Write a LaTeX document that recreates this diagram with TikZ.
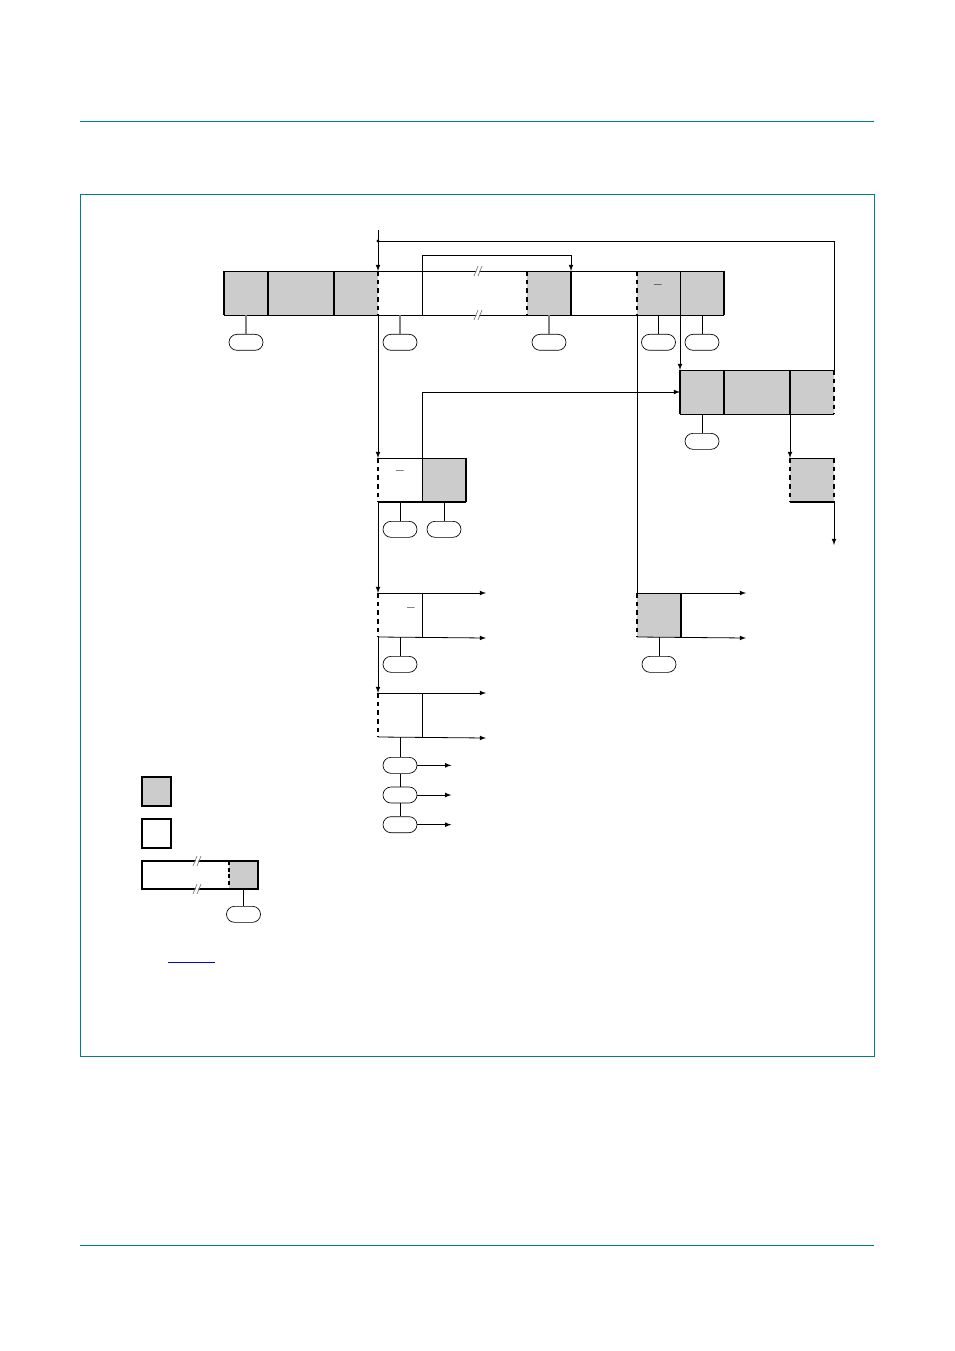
\documentclass[tikz,border=0pt]{standalone}
\usetikzlibrary{positioning}
\definecolor{frameteal}{RGB}{0,122,150}
\definecolor{cellgray}{RGB}{204,204,204}
\definecolor{linkblue}{RGB}{0,0,255}
\tikzset{
  cell/.style={inner sep=0pt, outer sep=0pt, anchor=north west, minimum height=33pt, minimum width=33pt},
  oval/.style={draw, line width=0.5pt, rounded corners=6pt, minimum width=25.5pt, minimum height=12pt, inner sep=0pt},
  stem/.style={draw=gray, line width=0.9pt},
  thickedge/.style={line width=1.6pt},
  dashededge/.style={line width=1.6pt, dash pattern=on 3.5pt off 3pt},
  flow/.style={line width=0.6pt, -latex},
  plain/.style={line width=0.6pt},
  cut/.style={gray, line width=0.5pt},
  bar/.style={inner sep=0pt, font=\normalsize\bfseries}
}

\begin{document}
\begin{tikzpicture}[x=0.75pt,y=-0.75pt]
    \useasboundingbox (0,0) rectangle (954,1351);
    % page rules and figure frame
    \draw[frameteal, line width=0.75pt] (80,122) -- (874,122);
    \draw[frameteal, line width=0.75pt] (80,1245) -- (874,1245);
    \draw[frameteal, line width=0.75pt] (80,195) rectangle (874,1056);

    % top row
    \foreach \n/\x/\w/\f in {a1/224/33/cellgray, a2/268/49.5/cellgray, a3/334/33/cellgray,
        a4/378/33/white, a5/422/78.75/white, a6/527/33/cellgray, a7/571/49.5/white,
        a8/637/32.25/cellgray, a9/680/33/cellgray}{%
      \node[cell, fill=\f, minimum width=\w pt] (\n) at (\x,271) {};
    }
    % second row on the right
    \foreach \n/\x/\w in {c1/680/33, c2/724/49.5, c3/790/33}{%
      \node[cell, fill=cellgray, minimum width=\w pt] (\n) at (\x,370) {};
    }
    \node[cell, fill=white] (d1) at (378,458) {};
    \node[cell, fill=cellgray] (d2) at (422,458) {};
    \node[cell, fill=cellgray] (h) at (790,458) {};
    \node[cell, fill=white] (e1) at (378,593) {};
    \node[cell, fill=cellgray] (g1) at (637,593) {};
    \node[cell, fill=white] (f1) at (378,693) {};

    % borders of the top row
    \draw[plain] (a1.north west) -- (a9.north east);
    \draw[plain] (a1.south west) -- (a9.south east);
    \foreach \c in {a1,a2,a3}
      \draw[thickedge] (\c.north west) -- (\c.south west);
    \draw[thickedge] (a6.north east) -- (a6.south east);
    \draw[thickedge] (a9.north east) -- (a9.south east);
    \draw[plain] (a9.north west) -- (a9.south west);
    \foreach \c in {a4,a6,a8}
      \draw[dashededge] (\c.north west) -- (\c.south west);
    \node[bar] (bar1) at (658,287) {--};

    % borders of the right row
    \draw[plain] (c1.north west) -- (c3.north east);
    \draw[plain] (c1.south west) -- (c3.south east);
    \foreach \c in {c1,c2,c3}
      \draw[thickedge] (\c.north west) -- (\c.south west);
    \draw[dashededge] (c3.north east) -- (c3.south east);

    % borders of the smaller boxes
    \draw[plain] (d1.north west) -- (d2.north east);
    \draw[thickedge] (d1.south west) -- (d2.south east);
    \draw[dashededge] (d1.north west) -- (d1.south west);
    \draw[thickedge] (d2.north east) -- (d2.south east);
    \node[bar] (bar2) at (400,473) {--};

    \draw[plain] (h.north west) -- (h.north east);
    \draw[thickedge] (h.south west) -- (h.south east);
    \draw[dashededge] (h.north west) -- (h.south west);
    \draw[dashededge] (h.north east) -- (h.south east);

    \coordinate (eTop) at (486,593);
    \coordinate (eBot) at (486,638);
    \draw[flow] (e1.north west) -- (eTop);
    \draw[flow] (e1.south west) -- (eBot);
    \draw[dashededge] (e1.north west) -- (e1.south west);
    \draw[plain] (e1.north east) -- (e1.south east);
    \node[bar] (bar3) at (411,610) {--};

    \coordinate (fTop) at (486,693);
    \coordinate (fBot) at (486,738);
    \draw[flow] (f1.north west) -- (fTop);
    \draw[flow] (f1.south west) -- (fBot);
    \draw[dashededge] (f1.north west) -- (f1.south west);
    \draw[plain] (f1.north east) -- (f1.south east);

    \coordinate (gTop) at (746,593);
    \coordinate (gBot) at (746,638);
    \draw[flow] (g1.north west) -- (gTop);
    \draw[flow] (g1.south west) -- (gBot);
    \draw[dashededge] (g1.north west) -- (g1.south west);
    \draw[thickedge] (g1.north east) -- (g1.south east);

    % connectors
    \coordinate (entry) at (378,230);
    \coordinate (fork) at (378,241);
    \coordinate (loopR) at (834,241);
    \coordinate (hop) at (422,255);
    \coordinate (exit) at (834,545);
    \draw[flow] (entry) -- (a4.north west);
    \fill (fork) circle (1.2pt);
    \draw[plain] (fork) -- (loopR) -- (c3.north east);
    \draw[flow] (a5.south west) -- (hop) -| (a6.north east);
    \draw[flow] (a4.south west) -- (d1.north west);
    \draw[flow] (d1.south west) -- (e1.north west);
    \draw[flow] (e1.south west) -- (f1.north west);
    \draw[flow] (a9.south west) -- (c1.north west);
    \draw[flow] (d2.south west) |- (c1.west);
    \draw[flow] (c3.south west) -- (h.north west);
    \draw[flow] (h.south east) -- (exit);
    \draw[plain] (a8.south west) -- (g1.north west);

    % break marks
    \foreach \y in {271,315}{%
      \draw[white, line width=2pt] (476,\y+5) -- (480,\y-5);
      \draw[cut] (474,\y+5) -- (478,\y-5);
      \draw[cut] (478,\y+5) -- (482,\y-5);
    }

    % ovals under the cells
    \foreach \c/\o in {a1/o1, a4/o2, a6/o3}{%
      \node[oval, below=14.25pt of \c] (\o) {};
      \draw[stem] (\c.south) -- (\o.north);
    }
    \foreach \c/\o in {a8/o4, a9/o5, c1/o6, d1/o7, d2/o8, e1/o9, g1/o10}{%
      \node[oval, below=14.25pt of \c] (\o) {};
      \draw[plain] (\c.south) -- (\o.north);
    }
    \node[oval, below=15pt of f1] (o11) {};
    \node[oval, below=9.75pt of o11] (o12) {};
    \node[oval, below=9.75pt of o12] (o13) {};
    \draw[plain] (f1.south) -- (o11.north);
    \draw[plain] (o11.south) -- (o12.north);
    \draw[plain] (o12.south) -- (o13.north);
    \foreach \o in {o11,o12,o13}
      \draw[flow] (\o.east) -- ++(34,0);

    % key
    \node[cell, fill=cellgray, draw, thickedge, minimum width=21.75pt, minimum height=21.75pt] (keyfill) at (142,777) {};
    \node[cell, draw, thickedge, minimum width=21.75pt, minimum height=21.75pt] (keyempty) at (142,819) {};
    \node[cell, minimum width=65.25pt, minimum height=21pt] (keyrun) at (142,861) {};
    \node[cell, fill=cellgray, minimum width=21.75pt, minimum height=21pt] (keyend) at (229,861) {};
    \draw[thickedge] (keyrun.north west) rectangle (keyend.south east);
    \draw[line width=1pt, dash pattern=on 3pt off 2pt] (keyend.north west) -- (keyend.south west);
    \foreach \y in {861,889}{%
      \draw[white, line width=2pt] (195,\y+5) -- (199,\y-5);
      \draw[cut] (193,\y+5) -- (197,\y-5);
      \draw[cut] (197,\y+5) -- (201,\y-5);
    }
    \node[oval, below=12.75pt of keyend] (o14) {};
    \draw[plain] (keyend.south) -- (o14.north);

    \draw[linkblue, line width=0.6pt] (168,962) -- (215,962);
\end{tikzpicture}
\end{document}
